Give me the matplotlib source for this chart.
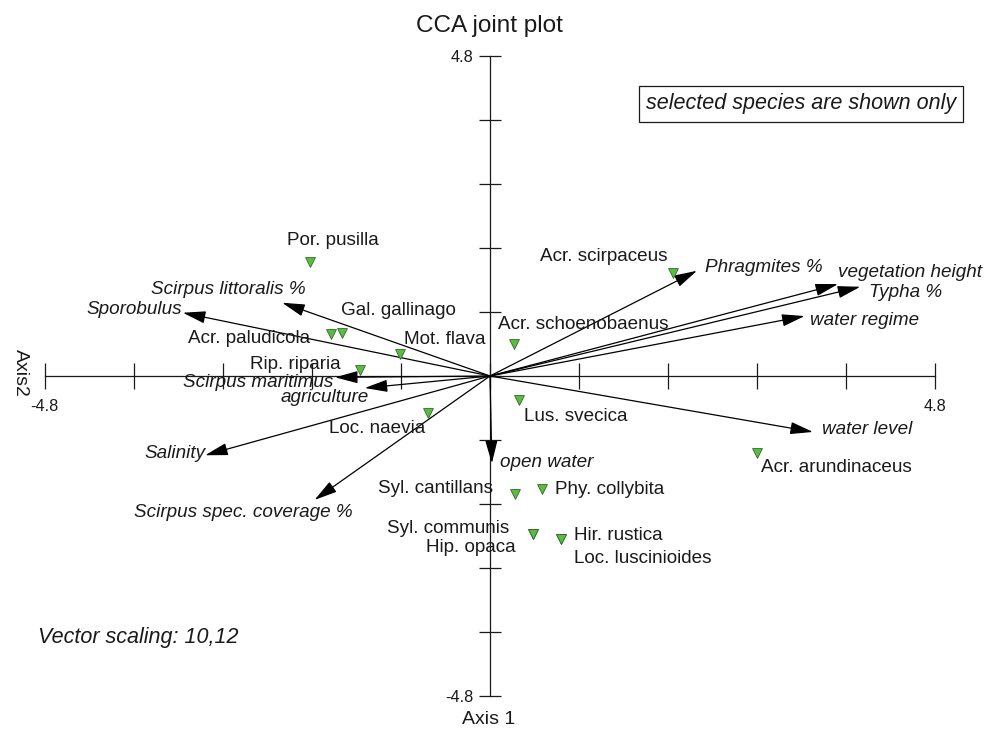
import matplotlib
matplotlib.use("Agg")
import matplotlib.pyplot as plt

plt.rcParams['font.family'] = ['Liberation Sans', 'DejaVu Sans']

# ── Data (CCA scores) ─────────────────────────────────────────────────────────
species = ["Por. pusilla", "Acr. paludicola", "Gal. gallinago", "Mot. flava",
           "Rip. riparia", "Loc. naevia", "Acr. schoenobaenus", "Acr. scirpaceus",
           "Lus. svecica", "Acr. arundinaceus", "Syl. cantillans", "Phy. collybita",
           "Syl. communis", "Hip. opaca", "Hir. rustica", "Loc. luscinioides"]
species_x = [-1.94, -1.71, -1.59, -0.97, -1.40, -0.67, 0.26, 1.97,
             0.31, 2.88, 0.27, 0.56, 0.46, 0.46, 0.77, 0.77]
species_y = [1.71, 0.63, 0.65, 0.33, 0.09, -0.56, 0.48, 1.55,
             -0.36, -1.16, -1.77, -1.70, -2.37, -2.37, -2.45, -2.45]

env_vars = ["Scirpus littoralis %", "Sporobulus", "Scirpus maritimus", "agriculture",
            "Salinity", "Scirpus spec. coverage %", "open water", "Phragmites %",
            "vegetation height", "Typha %", "water regime", "water level"]
env_x = [-2.24, -3.31, -1.67, -1.35, -3.07, -1.89, 0.02, 2.23, 3.75, 3.99, 3.39, 3.48]
env_y = [1.10, 0.95, -0.02, -0.18, -1.19, -1.86, -1.31, 1.58, 1.38, 1.34, 0.90, -0.84]

axis_ticks = [-4.8, -3.84, -2.88, -1.92, -0.96, 0.0, 0.96, 1.92, 2.88, 3.84, 4.8]
tick_labels = ["-4.8", "", "", "", "", "", "", "", "", "", "4.8"]

# ── Label layout: (dx, dy) in pixels from the point, horizontal alignment ─────
species_offsets = {
    "Por. pusilla":       (-23, 22, 'left'),
    "Acr. paludicola":    (-21, -4, 'right'),
    "Gal. gallinago":     (-1, 22, 'left'),
    "Mot. flava":         (4, 15, 'left'),
    "Rip. riparia":       (-19, 6, 'right'),
    "Loc. naevia":        (-3, -15, 'right'),
    "Acr. schoenobaenus": (-16, 20, 'left'),
    "Acr. scirpaceus":    (-5, 16, 'right'),
    "Lus. svecica":       (5, -17, 'left'),
    "Acr. arundinaceus":  (4, -14, 'left'),
    "Syl. cantillans":    (-22, 5, 'right'),
    "Phy. collybita":     (13, 0, 'left'),
    "Syl. communis":      (-23, 5, 'right'),
    "Hip. opaca":         (-17, -14, 'right'),
    "Hir. rustica":       (13, 4, 'left'),
    "Loc. luscinioides":  (13, -19, 'left'),
}
env_offsets = {
    "Scirpus littoralis %":     (23, 13, 'right'),
    "Sporobulus":               (-1, 3, 'right'),
    "Scirpus maritimus":        (-2, -5, 'right'),
    "agriculture":              (4, -10, 'right'),
    "Salinity":                 (0, 2, 'right'),
    "Scirpus spec. coverage %": (38, -13, 'right'),
    "open water":               (8, 1, 'left'),
    "Phragmites %":             (8, 3, 'left'),
    "vegetation height":        (0, 12, 'left'),
    "Typha %":                  (9, -6, 'left'),
    "water regime":             (5, -4, 'left'),
    "water level":              (9, 2, 'left'),
}

W, H = 985, 729
CX, CY = 490, 376        # pixel position of the origin
SX, SY = 92.8, 66.6      # pixels per unit on each axis
TEXT = '#1a1a1a'
FS = 13.6


def px(x, y):
    """Pixel position (from top-left) to figure fraction."""
    return x / W, 1 - y / H


fig = plt.figure(figsize=(W / 100, H / 100), dpi=100)
ax = fig.add_axes([0, 0, 1, 1])
ax.set_xlim(-CX / SX, (W - CX) / SX)
ax.set_ylim(-(H - CY) / SY, CY / SY)
ax.patch.set_alpha(0)

# cross-shaped axes through the origin
for side in ['top', 'right']:
    ax.spines[side].set_visible(False)
for side in ['left', 'bottom']:
    ax.spines[side].set_position(('data', 0))
    ax.spines[side].set_bounds(-4.8, 4.8)
    ax.spines[side].set_linewidth(0.9)
    ax.spines[side].set_color(TEXT)
ax.set_xticks(axis_ticks)
ax.set_xticklabels(tick_labels)
ax.set_yticks(axis_ticks)
ax.set_yticklabels(tick_labels)
ax.tick_params(axis='x', direction='inout', length=18.7, width=0.9, pad=7.5,
               labelsize=11.7, colors=TEXT)
ax.tick_params(axis='y', direction='inout', length=15.8, width=0.9, pad=4,
               labelsize=11.7, colors=TEXT)

# environmental vectors
for name, x, y in zip(env_vars, env_x, env_y):
    ax.annotate('', xy=(x, y), xytext=(0, 0),
                arrowprops=dict(arrowstyle='-|>,head_length=1.0,head_width=0.27',
                                mutation_scale=14, color='black', lw=0.9,
                                shrinkA=0, shrinkB=0))
    dx, dy, ha = env_offsets[name]
    ax.annotate(name, xy=(x, y), xytext=(dx, dy), textcoords='offset pixels',
                ha=ha, va='center', fontsize=FS, style='italic', color=TEXT)

# species
ax.scatter(species_x, species_y, marker='v', s=50, c='#5cbb45',
           edgecolors='#2f6a22', linewidths=0.6, zorder=3)
for name, x, y in zip(species, species_x, species_y):
    dx, dy, ha = species_offsets[name]
    ax.annotate(name, xy=(x, y), xytext=(dx, dy), textcoords='offset pixels',
                ha=ha, va='center', fontsize=FS, color=TEXT)

# titles and notes
fig.text(*px(489, 26), 'CCA joint plot', ha='center', va='center', fontsize=17.5, color=TEXT)
fig.text(*px(20, 373), 'Axis2', rotation=-90, ha='center', va='center', fontsize=14, color=TEXT)
fig.text(*px(489, 719), 'Axis 1', ha='center', va='center', fontsize=14, color=TEXT)
fig.text(*px(38, 637), 'Vector scaling: 10,12', ha='left', va='center',
         fontsize=15.5, style='italic', color=TEXT)
fig.text(*px(801, 104), 'selected species are shown only', ha='center', va='center',
         fontsize=15.5, style='italic', color=TEXT,
         bbox=dict(boxstyle='square,pad=0.33', fc='white', ec=TEXT, lw=0.9))

fig.savefig('out.png', dpi=100)
